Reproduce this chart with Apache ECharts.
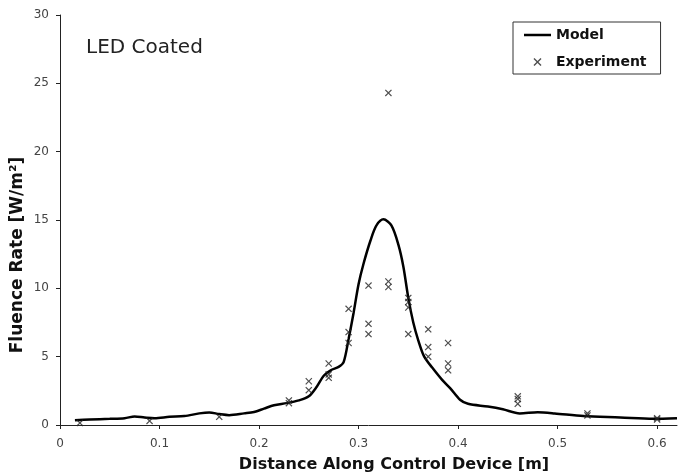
<!DOCTYPE html>
<html>
<head>
<meta charset="utf-8">
<script src="https://cdn.jsdelivr.net/npm/echarts@6/dist/echarts.min.js"></script>
<style>
html,body{margin:0;padding:0;background:#fff;}
#chart{width:678px;height:476px;}
</style>
</head>
<body>
<div id="chart"></div>
<script>
// Model curve
const modelX = [0.015,0.03,0.05,0.065,0.075,0.085,0.095,0.11,0.125,0.14,0.15,0.16,0.17,0.185,0.195,0.205,0.215,0.228,0.24,0.25,0.258,0.265,0.272,0.28,0.285,0.29,0.295,0.3,0.305,0.312,0.318,0.325,0.333,0.34,0.345,0.35,0.355,0.36,0.366,0.374,0.384,0.392,0.402,0.41,0.43,0.445,0.462,0.48,0.497,0.526,0.563,0.596,0.62];
const modelY = [0.35,0.4,0.45,0.5,0.62,0.55,0.5,0.6,0.65,0.85,0.92,0.8,0.72,0.85,0.95,1.2,1.45,1.6,1.8,2.1,2.8,3.6,4.0,4.25,4.6,6.3,8.2,10.3,11.8,13.5,14.6,15.05,14.6,13.2,11.6,9.3,7.5,6.2,5.0,4.2,3.3,2.7,1.85,1.55,1.35,1.15,0.85,0.93,0.85,0.65,0.55,0.45,0.5];
// Experiment points
const expX = [0.02,0.09,0.16,0.23,0.23,0.25,0.25,0.27,0.27,0.27,0.29,0.29,0.29,0.31,0.31,0.31,0.33,0.33,0.33,0.35,0.35,0.35,0.35,0.37,0.37,0.37,0.39,0.39,0.39,0.46,0.46,0.46,0.53,0.53,0.6,0.6];
const expY = [0.15,0.3,0.6,1.6,1.8,2.55,3.2,3.45,3.7,4.5,6.0,6.8,8.5,6.65,7.4,10.2,10.1,10.5,24.3,6.65,8.6,9.0,9.3,5.0,5.7,7.0,4.0,4.5,6.0,1.55,1.9,2.1,0.7,0.85,0.4,0.5];
const xTicks = [0,0.1,0.2,0.3,0.4,0.5,0.6];
const seriesNames = ['Model','Experiment'];
const xTitle = 'Distance Along Control Device [m]';
const yTitle = 'Fluence Rate [W/m²]';
const panelLabel = 'LED Coated';

const crossPath = 'path://M0,1.2 L1.2,0 L5,3.8 L8.8,0 L10,1.2 L6.2,5 L10,8.8 L8.8,10 L5,6.2 L1.2,10 L0,8.8 L3.8,5 Z';
const lineIcon = 'path://M0,0 L27,0 L27,2.5 L0,2.5 Z';
const FONT = 'DejaVu Sans';

const chart = echarts.init(document.getElementById('chart'), null, {renderer:'canvas'});
chart.setOption({
  animation:false,
  backgroundColor:'#fff',
  grid:{left:60, right:1, top:15, bottom:51, containLabel:false},
  xAxis:{
    type:'value', min:0, max:0.62, interval:0.1,
    axisLine:{show:true, onZero:false, lineStyle:{color:'#222', width:1}},
    axisTick:{show:true, length:4, inside:false, customValues:xTicks, lineStyle:{color:'#222'}},
    axisLabel:{customValues:xTicks, color:'#444', fontFamily:FONT, fontSize:12, margin:13},
    splitLine:{show:false}
  },
  yAxis:{
    type:'value', min:0, max:30, interval:5,
    axisLine:{show:true, onZero:false, lineStyle:{color:'#222', width:1}},
    axisTick:{show:true, length:4, inside:false, lineStyle:{color:'#222'}},
    axisLabel:{color:'#444', fontFamily:FONT, fontSize:12, margin:11},
    splitLine:{show:false}
  },
  legend:{
    orient:'vertical', left:513, top:22,
    padding:[6,14,5,11], itemGap:13,
    itemWidth:27, itemHeight:8,
    borderColor:'#333', borderWidth:1, backgroundColor:'#fff',
    textStyle:{fontFamily:FONT, fontWeight:'bold', fontSize:14, color:'#111'},
    data:[{name:seriesNames[0], icon:lineIcon}, {name:seriesNames[1]}]
  },
  graphic:[
    {type:'text', left:86, top:38, style:{text:panelLabel, fontFamily:FONT, fontSize:20, fill:'#222'}},
    {type:'text', x:394, y:465, style:{text:xTitle, fontFamily:FONT, fontWeight:'bold', fontSize:16, fill:'#111', align:'center', verticalAlign:'middle'}},
    {type:'text', x:18, y:255, rotation:Math.PI/2, style:{text:yTitle, fontFamily:FONT, fontWeight:'bold', fontSize:17, fill:'#111', align:'center', verticalAlign:'middle'}}
  ],
  series:[
    {
      name:seriesNames[0], type:'line', symbol:'none', smooth:0.3,
      lineStyle:{color:'#000', width:2.5}, itemStyle:{color:'#000'},
      data:modelX.map((x,i)=>[x, modelY[i]]), z:3
    },
    {
      name:seriesNames[1], type:'scatter', symbol:crossPath, symbolSize:7,
      itemStyle:{color:'#222'},
      data:expX.map((x,i)=>[x, expY[i]]), z:4
    }
  ]
});
</script>
</body>
</html>
